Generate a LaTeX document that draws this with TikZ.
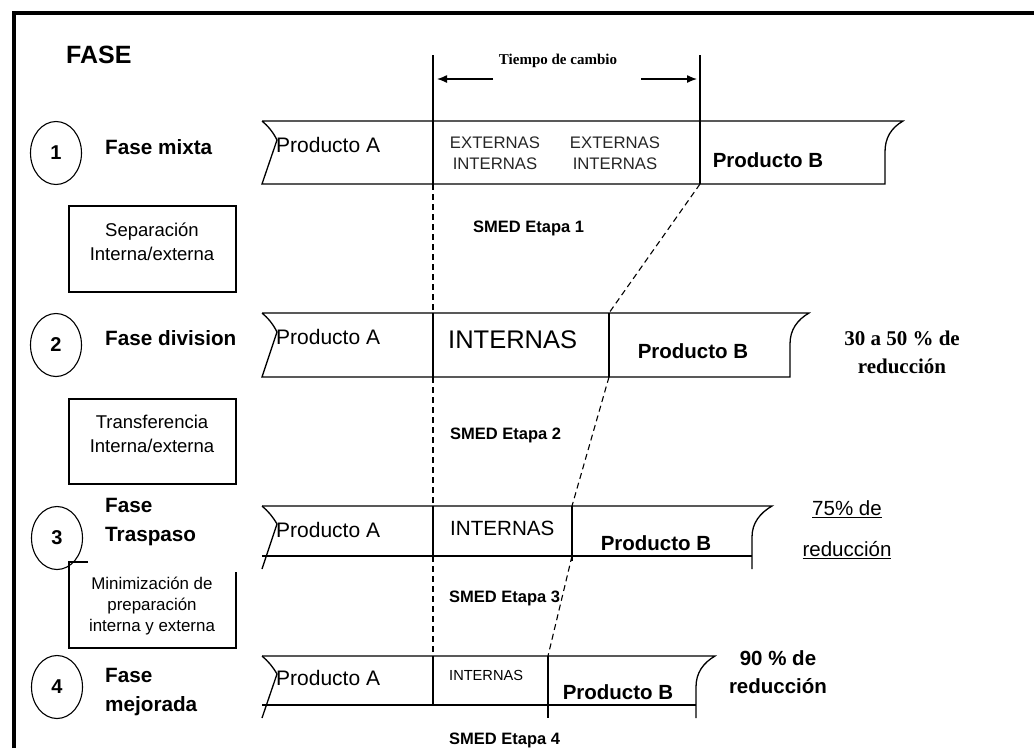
\documentclass[tikz,border=0pt]{standalone}
\usepackage{fontspec}
\setmainfont{Liberation Sans}
\newfontfamily\seriffam{Liberation Serif}
\usetikzlibrary{arrows.meta,shapes.geometric}
\newcommand{\fsz}[2]{\fontsize{#1}{#2}\selectfont}
\begin{document}
\begin{tikzpicture}[x=1pt,y=-1pt,
  band/.style={line width=1.3pt},
  sepline/.style={line width=1.2pt},
  guide/.style={line width=1.1pt, dash pattern=on 6pt off 4pt},
  circ/.style={draw, ellipse, line width=1.1pt, minimum width=51pt, minimum height=63pt, inner sep=0pt, font=\bfseries\fsz{20}{24}},
  fase/.style={anchor=west, inner sep=0pt, align=left, font=\bfseries\fsz{20.7}{28.5}},
  boxtxt/.style={inner sep=0pt, align=center, font=\fsz{18.5}{24}},
  pa/.style={anchor=west, inner sep=0pt, font=\fsz{21}{25}},
  pb/.style={inner sep=0pt, font=\bfseries\fsz{20.5}{25}},
  smed/.style={anchor=west, inner sep=0pt, font=\bfseries\fsz{16.5}{20}},
  arr/.style={line width=1.3pt, -{Latex[length=10pt,width=8pt]}}]
\useasboundingbox (0,0) rectangle (1034,748);
% frame
\draw[line width=4pt, line join=miter] (14,748) -- (14,13) -- (1034,13);

% title texts
\node[anchor=west, inner sep=0pt, font=\bfseries\fsz{25}{30}] (fase) at (66,55) {FASE};
\node[inner sep=0pt, font=\seriffam\bfseries\fsz{15}{18}] (tiempo) at (558,61) {Tiempo de cambio};

% coordinates of the change-time markers
\coordinate (L0) at (433,55);  \coordinate (R0) at (700,55);
\coordinate (L1t) at (433,121); \coordinate (L1b) at (433,184);
\coordinate (R1t) at (700,121); \coordinate (R1b) at (700,184);
\coordinate (L2t) at (433,313); \coordinate (L2b) at (433,377);
\coordinate (R2t) at (609,313); \coordinate (R2b) at (609,377);
\coordinate (L3t) at (433,506); \coordinate (L3b) at (433,556);
\coordinate (R3t) at (572,506); \coordinate (R3b) at (572,556); \coordinate (R3e) at (572,561);
\coordinate (L4t) at (433,656); \coordinate (L4b) at (433,705);
\coordinate (R4t) at (548,656); \coordinate (R4e) at (548,718);
\coordinate (AL1) at (493,79); \coordinate (AL2) at (437,79);
\coordinate (AR1) at (641,79); \coordinate (AR2) at (697,79);

% arrows
\draw[arr] (AL1) -- (AL2);
\draw[arr] (AR1) -- (AR2);

% bands
% row 1
\draw[band] (262,121) -- (903,121) .. controls (891,128) and (885,138) .. (885,152) -- (885,184) -- (262,184) -- (277,140) .. controls (273,132) and (268,126) .. (262,121);
% row 2
\draw[band] (262,313) -- (809,313) .. controls (797,320) and (790,330) .. (790,344) -- (790,377) -- (262,377) -- (277,332) .. controls (273,324) and (268,318) .. (262,313);
% row 3
\draw[band] (262,506) -- (772,506) .. controls (760,513) and (752,523) .. (752,537) -- (752,569);
\draw[band] (262,556) -- (752,556);
\draw[band] (262,506) .. controls (268,511) and (273,517) .. (277,524) -- (262,569);
% row 4
\draw[band] (262,656) -- (715,656) .. controls (703,663) and (696,673) .. (696,687) -- (696,718);
\draw[band] (262,705) -- (696,705);
\draw[band] (262,656) .. controls (268,661) and (273,667) .. (277,674) -- (262,718);

% solid separators
\draw[sepline] (L0) -- (L1b);
\draw[sepline] (R0) -- (R1b);
\draw[sepline] (L2t) -- (L2b);
\draw[sepline] (R2t) -- (R2b);
\draw[sepline] (L3t) -- (L3b);
\draw[sepline] (R3t) -- (R3e);
\draw[sepline] (L4t) -- (L4b);
\draw[sepline] (R4t) -- (R4e);

% dashed guides
\draw[guide] (L1b) -- (L2t);
\draw[guide] (L2b) -- (L3t);
\draw[guide] (L3b) -- (L4t);
\draw[guide] (R1b) -- (R2t);
\draw[guide] (R2b) -- (R3t);
\draw[guide] (R3b) -- (R4t);

% circles and phase names
\node[circ] (c1) at (56,153) {1};
\node[circ] (c2) at (56,345) {2};
\node[circ] (c3) at (57,538) {3};
\node[circ] (c4) at (57,687) {4};
\node[fase] (f1) at (105,147) {Fase mixta};
\node[fase] (f2) at (105,338) {Fase division};
\node[fase] (f3) at (105,522) {Fase\\Traspaso};
\node[fase] (f4) at (105,692) {Fase\\mejorada};

% left boxes
\node[draw, line width=1.2pt, minimum width=167pt, minimum height=86pt, inner sep=0pt] (b1) at (152.5,249) {};
\node[boxtxt] (b1t) at (152,242) {Separación\\Interna/externa};
\node[draw, line width=1.2pt, minimum width=167pt, minimum height=85pt, inner sep=0pt] (b2) at (152.5,441.5) {};
\node[boxtxt] (b2t) at (152,434) {Transferencia\\Interna/externa};
\draw[line width=1.2pt] (88,562) -- (69,562) -- (69,648) -- (236,648) -- (236,572);
\node[inner sep=0pt, align=center, font=\fsz{16.9}{21}] (b3t) at (152,606) {Minimización de\\preparación\\interna y externa};

% row 1 texts
\node[pa] (pa1) at (276,145) {Producto A};
\node[inner sep=0pt, align=center, font=\fsz{16.7}{21}, text=black!85] (ei1) at (495,153) {EXTERNAS\\INTERNAS};
\node[inner sep=0pt, align=center, font=\fsz{16.7}{21}, text=black!85] (ei2) at (615,153) {EXTERNAS\\INTERNAS};
\node[pb] (pb1) at (768,160) {Producto B};

% row 2 texts
\node[pa] (pa2) at (276,337) {Producto A};
\node[anchor=west, inner sep=0pt, font=\fsz{25.5}{30}] (in2) at (448,340) {INTERNAS};
\node[pb] (pb2) at (693,351) {Producto B};
\node[inner sep=0pt, align=center, font=\seriffam\bfseries\fsz{21}{28}] (r2) at (902,352) {30 a 50 \% de\\reducción};

% row 3 texts
\node[pa] (pa3) at (276,530) {Producto A};
\node[anchor=west, inner sep=0pt, font=\fsz{20.6}{25}] (in3) at (450,528) {INTERNAS};
\node[pb] (pb3) at (656,543) {Producto B};
\node[inner sep=0pt, align=center, font=\fsz{20.5}{41}] (r3) at (847,530) {\underline{75\% de}\\\underline{reducción}};

% row 4 texts
\node[pa] (pa4) at (276,678) {Producto A};
\node[anchor=west, inner sep=0pt, font=\fsz{14.6}{18}] (in4) at (449,675) {INTERNAS};
\node[pb] (pb4) at (618,692) {Producto B};
\node[inner sep=0pt, align=center, font=\bfseries\fsz{20.5}{28}] (r4) at (778,672) {90 \% de\\reducción};

% SMED stage labels
\node[smed] (s1) at (473,228) {SMED Etapa 1};
\node[smed] (s2) at (450,435) {SMED Etapa 2};
\node[smed] (s3) at (449,598) {SMED Etapa 3};
\node[smed] (s4) at (449,740) {SMED Etapa 4};
\end{tikzpicture}
\end{document}
